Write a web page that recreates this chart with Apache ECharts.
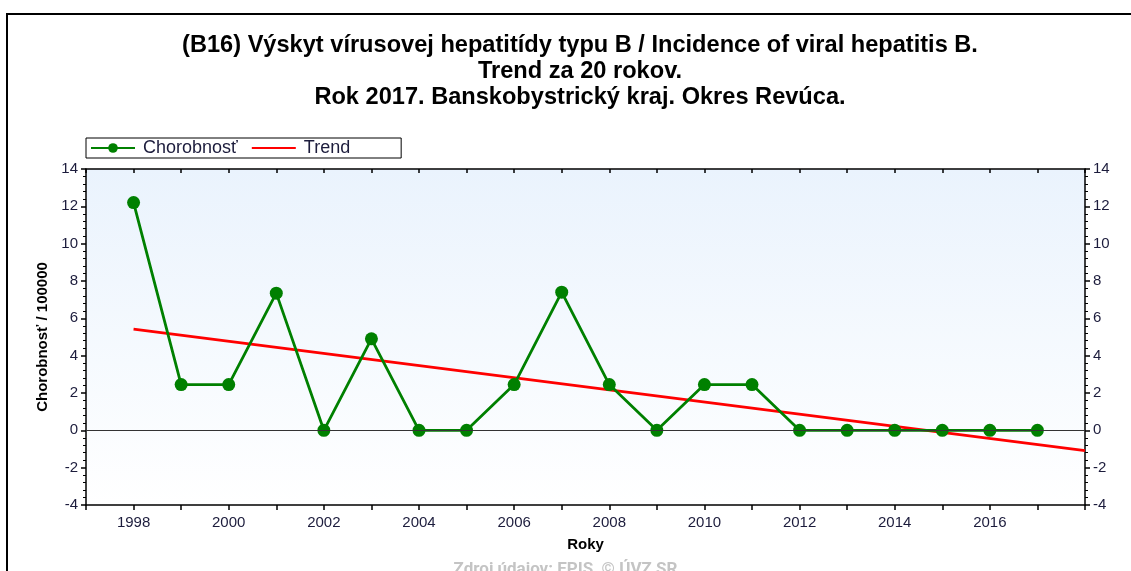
<!DOCTYPE html>
<html>
<head>
<meta charset="utf-8">
<script src="https://cdn.jsdelivr.net/npm/echarts@6/dist/echarts.min.js"></script>
<style>html,body{margin:0;padding:0;background:#fff;}#c{width:1131px;height:571px;}</style>
</head>
<body>
<div id="c"></div>
<script>
const years = [1998,1999,2000,2001,2002,2003,2004,2005,2006,2007,2008,2009,2010,2011,2012,2013,2014,2015,2016,2017];
const chorobnost = [12.2,2.45,2.45,7.35,0,4.9,0,0,2.45,7.4,2.45,0,2.45,2.45,0,0,0,0,0,0];
const trendYears = [1998, 2018];
const trendValues = [5.42, -1.09];
const yTicks = [-4,-2,0,2,4,6,8,10,12,14];
const xLabelYears = [1998,2000,2002,2004,2006,2008,2010,2012,2014,2016];

const titleText = '(B16) Výskyt vírusovej hepatitídy typu B / Incidence of viral hepatitis B.\nTrend za 20 rokov.\nRok 2017. Banskobystrický kraj. Okres Revúca.';
const FONT = 'Liberation Sans, Arial, sans-serif';
const LBL = '#1c1c3c';

const chart = echarts.init(document.getElementById('c'), null, {renderer:'canvas'});
const yAxisBase = {
  type:'value', min: yTicks[0], max: yTicks[yTicks.length-1], interval: 2,
  axisLine:{show:true, lineStyle:{color:'#000', width:1.5}},
  axisTick:{show:true, length:5, lineStyle:{color:'#000', width:1.5}},
  minorTick:{show:true, splitNumber:5, length:3, lineStyle:{color:'#000', width:1}},
  splitLine:{show:false},
  axisLabel:{color:LBL, fontFamily:FONT, fontSize:15, margin:8},
};
chart.setOption({
  animation:false,
  backgroundColor:'#fff',
  title:{
    text:titleText, left:575, top:27, textAlign:'center',
    textStyle:{fontFamily:FONT, fontSize:23.6, fontWeight:'bold', color:'#000', lineHeight:26}
  },
  legend:{
    left:86, top:138, orient:'horizontal',
    borderColor:'#000', borderWidth:1, padding:[1,51,1,4],
    itemWidth:44, itemHeight:12, itemGap:13,
    textStyle:{fontFamily:FONT, fontSize:18, color:LBL, padding:[0,0,0,3]},
    data:['Chorobnosť', {name:'Trend', itemStyle:{opacity:0}}]
  },
  grid:{left:86, right:46, top:169, bottom:66, show:true, borderWidth:0,
    backgroundColor:{type:'linear', x:0, y:0, x2:0, y2:1,
      colorStops:[{offset:0,color:'#eaf3fd'},{offset:1,color:'#ffffff'}]}},
  xAxis:[
    {type:'value', position:'bottom', min:1997, max:2018, interval:1,
     name:'Roky', nameLocation:'middle', nameGap:32,
     nameTextStyle:{fontFamily:FONT, fontSize:15, fontWeight:'bold', color:'#000'},
     axisLine:{show:true, onZero:false, lineStyle:{color:'#000', width:1.5}},
     axisTick:{show:true, length:5, lineStyle:{color:'#000', width:1.5}},
     splitLine:{show:false},
     axisLabel:{color:LBL, fontFamily:FONT, fontSize:15, margin:10,
       formatter:v => xLabelYears.includes(v) ? String(v) : ''}},
    {type:'value', position:'top', min:1997, max:2018, interval:1,
     axisLine:{show:true, onZero:false, lineStyle:{color:'#000', width:1.5}},
     axisTick:{show:true, inside:true, length:4, lineStyle:{color:'#000', width:1.5}},
     splitLine:{show:false}, axisLabel:{show:false}}
  ],
  yAxis:[
    Object.assign({}, yAxisBase, {position:'left', name:'Chorobnosť / 100000', nameLocation:'middle', nameGap:36, nameRotate:90,
      nameTextStyle:{fontFamily:FONT, fontSize:15, fontWeight:'bold', color:'#000'}}),
    Object.assign({}, yAxisBase, {position:'right'})
  ],
  series:[
    {name:'Trend', type:'line', xAxisIndex:0, yAxisIndex:0,
     data: trendYears.map((y,i)=>[y, trendValues[i]]),
     showSymbol:false, symbol:'none', lineStyle:{color:'#ff0000', width:2.8}, itemStyle:{color:'#ff0000'}, z:3,
     markLine:{silent:true, symbol:'none', label:{show:false}, lineStyle:{color:'#333', width:1.2, type:'solid'},
       data:[{yAxis:0}]}},
    {name:'Chorobnosť', type:'line', xAxisIndex:0, yAxisIndex:0,
     data: years.map((y,i)=>[y, chorobnost[i]]),
     symbol:'circle', symbolSize:13, lineStyle:{color:'#008000', width:2.8},
     itemStyle:{color:'#008000'}, z:4}
  ],
  graphic:[
    {type:'rect', shape:{x:7, y:14, width:1200, height:700}, style:{fill:null, stroke:'#000', lineWidth:2}, silent:true},
    {type:'text', left:'center', top:561, style:{text:'Zdroj údajov: EPIS, © ÚVZ SR', fill:'#c4c4c4', font:'bold 17px Roboto, sans-serif'}, silent:true}
  ]
});
</script>
</body>
</html>
